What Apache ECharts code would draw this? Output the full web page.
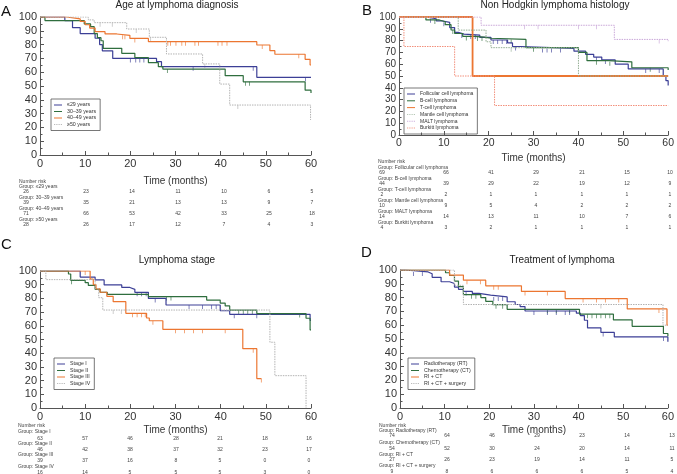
<!DOCTYPE html>
<html><head><meta charset="utf-8">
<script src="https://cdn.jsdelivr.net/npm/echarts/dist/echarts.min.js"></script>
<style>html,body{margin:0;padding:0;background:#fff}#c{width:677px;height:474px}</style>
</head><body><div id="c"></div>
<script>
// ---------- Panel A: Age at lymphoma diagnosis ----------
const ageNames = ['≤29 years', '30–39 years', '40–49 years', '≥50 years'];
const ageLe29 = [[0,100],[5.5,97.3],[7.2,92.3],[8.9,88],[12.2,84.6],[13.2,80],[13.8,75.5],[16.1,70],[25.8,67.6],[26.9,64],[48,56.3],[60,56.3]];
const ageLe29Cens = [20,21.2,22.1,23,33.9,47.2,58.8];
const age3039 = [[0,100],[1.1,97.4],[9.8,95],[11.2,93],[12,88],[12.7,85],[13.5,82.8],[14,77.3],[18.1,73.7],[21,70.5],[24,66.9],[26.2,64],[27.2,62.3],[41,57.5],[45,53],[58.7,47],[60,45]];
const age3039Cens = [28.2,45.5,46.4];
const age4049 = [[0,100],[5.9,98.6],[8.9,96.8],[10,94.4],[11,92],[12.2,89.4],[14.4,87.7],[17,86.7],[19.9,84.5],[24,82.1],[48,79.7],[50.9,75.6],[52,73],[58.7,69.3],[59.8,65.2],[60,65.2]];
const age4049Cens = [18.3,18.8,21,28.3,28.9,30.1,31.4,32.2,34.3,35.1,39.4,40.3,41.4,49.2,57.3];
const ageGe50 = [[0,100],[10.7,97.9],[12,95.9],[19.2,91.3],[24.2,85.3],[28,73.2],[36,66],[39.8,51.4],[42,36.2],[59.9,25.4],[60,25.4]];
const ageGe50Cens = [13.3,16,21.3,24.5,36.5,43.8];
const ageRisk = [[26,23,14,11,10,6,5],[39,35,21,13,13,9,7],[71,66,53,42,33,25,18],[28,26,17,12,7,4,3]];

// ---------- Panel B: Non Hodgkin lymphoma histology ----------
const histNames = ['Follicular cell lymphoma','B-cell lymphoma','T-cell lymphoma','Mantle cell lymphoma','MALT lymphoma','Burkitt lymphoma'];
const histFoll = [[0,100],[6,98.5],[8.3,96.8],[9.5,95.5],[11.3,91],[12.4,87],[13.2,85.5],[14.5,84.7],[18,82.8],[20.5,80.5],[24.2,78],[25.3,75],[27.2,73.4],[39,71],[41.6,68.4],[43.4,66],[45.2,63.6],[48.2,60],[51.1,56],[58.9,50],[59.5,46],[60,42]];
const histFollCens = [7,10,14,16,17,21,22,23,24,26,32,33,34,36,44,46,55,58];
const histBcell = [[0,100],[6,97.5],[9,96],[10.3,93.5],[11.6,89],[12.4,86],[14.2,83.5],[16.8,83],[19,82],[20.5,81],[28.3,74],[40,70],[41.9,63],[46.7,62],[51.9,57],[60,55]];
const histBcellCens = [8,12,15,17.5,18.5,25,30,44,47,56];
const histTcell = [[0,100],[16.4,50],[60,50]];
const histTcellCens = [];
const histMantle = [[0,100],[13.2,88.9],[19.4,79],[20.5,74],[40,50],[60,50]];
const histMantleCens = [25];
const histMalt = [[0,100],[18.3,93],[48,81],[60,79.5]];
const histMaltCens = [28,31,40,44,58];
const histBurkitt = [[0,100],[1.1,75],[12.4,50],[21.3,25],[60,25]];
const histBurkittCens = [];
const histRisk = [[69,66,41,29,21,15,10],[44,39,29,22,19,12,9],[2,2,1,1,1,1,1],[10,9,5,4,2,2,2],[14,14,13,11,10,7,6],[4,3,2,1,1,1,1]];

// ---------- Panel C: Lymphoma stage ----------
const stageNames = ['Stage I','Stage II','Stage III','Stage IV'];
const stage1 = [[0,100],[8.9,95.6],[12.2,93.5],[14.2,89.8],[18.1,88],[19.9,86.6],[21,84.4],[24,80],[27.9,75.2],[39.9,71],[42,68.4],[59.8,64],[60,64]];
const stage1Cens = [21.5,22.5,23.5,25.5,33,36,38,39,43,48];
const stage2 = [[0,100],[6.3,97.8],[6.8,93.2],[10,91.5],[10.7,89.5],[12.2,86.6],[13.3,84.5],[14.9,83],[24,81.3],[36.9,78.8],[39.9,76.6],[41,74.5],[42,71.5],[48,68.9],[58.9,65.5],[59.8,57],[60,57]];
const stage2Cens = [7,28,29,44,45,46,47,57.5];
const stage3 = [[0,100],[11.1,94],[11.8,90],[12.4,87],[13.3,84.5],[14.8,81.5],[16.2,77.6],[19,69.1],[23.6,65.7],[24.2,63.7],[27.2,57.4],[44.9,43.3],[48,21.5],[49,21.5]];
const stage3Cens = [10,20.5,21.5,22.5,23.3,25,30,32,34,36,41,47.2,49];
const stage4 = [[0,100],[1.3,93.7],[12.2,87],[13,80.5],[13.9,71.5],[50.9,48],[52,23.6],[58.9,0]];
const stage4Cens = [16.2,18];
const stageRisk = [[63,57,46,28,21,18,16],[46,42,38,37,32,23,17],[39,37,16,8,5,0,0],[16,14,5,5,5,3,0]];

// ---------- Panel D: Treatment of lymphoma ----------
const treatNames = ['Radiotherapy (RT)','Chemotherapy (CT)','RI + CT','RI + CT + surgery'];
const treatRT = [[0,100],[1.1,98.6],[6.3,97.3],[7.2,94.7],[9.2,91.5],[11.1,90.2],[12.2,87.6],[13.1,86],[14.2,84.5],[16.2,83],[17.7,81.8],[20.3,80.5],[24,77],[25.8,75],[26.9,73.5],[28,70.3],[39.5,68.7],[40.4,67],[41.3,63.6],[42,58],[45,54.8],[48,51.5],[60,48]];
const treatRTCens = [3,5,14.8,21,22,23,30,33,35,37,38,45.5,59];
const treatCT = [[0,100],[10.2,98],[11.1,96],[12.2,92],[13.1,88],[14.2,82.1],[18.1,80],[19.2,77.3],[20.8,74.9],[24,71.5],[40.2,68],[47.8,63.8],[52,59.2],[59,54],[60,52]];
const treatCTCens = [16,17,21.5,23,33,35,38,42,43,44,45,46,47];
const treatRTCT = [[0,100],[11.1,96.3],[14.2,92.6],[19.2,88.5],[27.2,84.5],[37,79.3],[50.9,71.8],[59.8,60],[60,60]];
const treatRTCTCens = [15,18,21,22,28,33,41,44,46,49,58];
const treatSurg = [[0,100],[12.2,88.9],[14.2,75],[58.9,60],[60,60]];
const treatSurgCens = [45];
const treatRisk = [[74,64,46,29,23,14,13],[54,52,30,24,20,14,11],[27,26,23,19,14,11,5],[9,8,6,6,6,5,4]];

const titles = ['Age at lymphoma diagnosis','Non Hodgkin lymphoma histology','Lymphoma stage','Treatment of lymphoma'];
const letters = ['A','B','C','D'];

// ---------- styling / building ----------
const FONT = '"Liberation Sans", Arial, Helvetica, sans-serif';
const BLUE = '#3c3f96', GREEN = '#2f6e3e', ORANGE = '#ec7631', GRAY = '#b3b3b3';
const DOT = [1.5, 1];
const SOLID_ICON = 'path://M0,0H8V1H0Z';
const DOT_ICON = 'path://M0,0H1V1H0Z M2,0H3V1H2Z M4,0H5V1H4Z M6,0H7V1H6Z M8,0H9V1H8Z';

function survAt(curve, t) {
  let s = curve[0][1];
  for (const p of curve) { if (p[0] <= t) s = p[1]; }
  return s;
}

const panels = [
  { grid:{left:40, top:17, width:271, height:138}, nameGap:21, labelSize:11, ylabelSize:11,
    legend:{left:51, top:99, itemGap:0.5, fs:5.3},
    curves:[
      {d:ageLe29, c:ageLe29Cens, color:BLUE, w:1.2},
      {d:age3039, c:age3039Cens, color:GREEN, w:1.2},
      {d:age4049, c:age4049Cens, color:ORANGE, w:1.2},
      {d:ageGe50, c:ageGe50Cens, color:GRAY, w:1, dash:DOT}],
    names: ageNames, risk: ageRisk,
    riskHead:{x:19, y:182}, labY:[187,198,209,220], valY:[192,203,214,225], cols:[26,86,132,178,224,269,312],
    title:{x:177, y:5}, letter:{x:1, y:12} },
  { grid:{left:399, top:17, width:271, height:118}, nameGap:18, labelSize:10.5, ylabelSize:10,
    legend:{left:404, top:88, itemGap:0.8, fs:5},
    curves:[
      {d:histFoll, c:histFollCens, color:BLUE, w:1.2},
      {d:histBcell, c:histBcellCens, color:GREEN, w:1.2},
      {d:histTcell, c:histTcellCens, color:ORANGE, w:1.8},
      {d:histMantle, c:histMantleCens, color:'#93ad93', w:1, dash:DOT},
      {d:histMalt, c:histMaltCens, color:'#c9a6d8', w:1, dash:DOT},
      {d:histBurkitt, c:histBurkittCens, color:'#f2907c', w:1, dash:DOT}],
    names: histNames, risk: histRisk,
    riskHead:{x:378, y:162}, labY:[168,179,190,201,212,223], valY:[173,184,195,206,217,228], cols:[382,446,491,536,582,627,670],
    title:{x:555, y:5}, letter:{x:362, y:11} },
  { grid:{left:40, top:271, width:271, height:137}, nameGap:17, labelSize:11, ylabelSize:11,
    legend:{left:54, top:358, itemGap:0.5, fs:5.3},
    curves:[
      {d:stage1, c:stage1Cens, color:BLUE, w:1.2},
      {d:stage2, c:stage2Cens, color:GREEN, w:1.2},
      {d:stage3, c:stage3Cens, color:ORANGE, w:1.2},
      {d:stage4, c:stage4Cens, color:GRAY, w:1, dash:DOT}],
    names: stageNames, risk: stageRisk,
    riskHead:{x:18, y:426}, labY:[432,444,455,467], valY:[439,450,461,473], cols:[40,85,130,176,220,265,309],
    title:{x:177, y:260}, letter:{x:1, y:245} },
  { grid:{left:400, top:270, width:271, height:138}, nameGap:17, labelSize:11, ylabelSize:11,
    legend:{left:408, top:358, itemGap:0.5, fs:5.3},
    curves:[
      {d:treatRT, c:treatRTCens, color:BLUE, w:1.2},
      {d:treatCT, c:treatCTCens, color:GREEN, w:1.2},
      {d:treatRTCT, c:treatRTCTCens, color:ORANGE, w:1.2},
      {d:treatSurg, c:treatSurgCens, color:GRAY, w:1, dash:DOT}],
    names: treatNames, risk: treatRisk,
    riskHead:{x:379, y:426}, labY:[431,443,455,466], valY:[436,449,460,472], cols:[392,447,492,537,582,627,672],
    title:{x:562, y:260}, letter:{x:361, y:253} }
];

const grids = [], xAxes = [], yAxes = [], series = [], legends = [], graphics = [];
function txt(x, y, text, size, align, color) {
  return { type:'text', x:x, y:y, silent:true,
    style:{ text:text, fontSize:size, fontFamily:FONT, fill:color, align:align, verticalAlign:'middle' } };
}

panels.forEach((p, i) => {
  grids.push(p.grid);
  const axisCommon = (size) => ({
    gridIndex:i, type:'value',
    axisLine:{show:true, onZero:false, lineStyle:{color:'#555', width:1}},
    axisTick:{show:true, inside:true, length:4, lineStyle:{color:'#555'}},
    minorTick:{show:true, splitNumber:2, length:2.5, lineStyle:{color:'#555'}},
    splitLine:{show:false},
    axisLabel:{fontSize:size, color:'#333', fontFamily:FONT, margin:3}
  });
  xAxes.push(Object.assign(axisCommon(p.labelSize), {
    min:0, max:60, interval:10,
    name:'Time (months)', nameLocation:'middle', nameGap:p.nameGap,
    nameTextStyle:{fontSize:10, color:'#333', fontFamily:FONT}
  }));
  yAxes.push(Object.assign(axisCommon(p.ylabelSize), { min:0, max:100, interval:10 }));

  p.curves.forEach((cv, k) => {
    series.push({
      type:'line', name:p.names[k], xAxisIndex:i, yAxisIndex:i, data:cv.d, step:'end',
      symbol:'none', animation:false, silent:true,
      lineStyle:{color:cv.color, width:cv.w, type:cv.dash || 'solid'},
      itemStyle:{color:cv.color}
    });
    if (cv.c.length) series.push({
      type:'scatter', xAxisIndex:i, yAxisIndex:i, animation:false, silent:true,
      data:cv.c.map(t => [t, survAt(cv.d, t)]),
      symbol:'rect', symbolSize:[0.8, 4], symbolOffset:[0, 2],
      itemStyle:{color:cv.color}
    });
  });

  legends.push({
    orient:'vertical', left:p.legend.left, top:p.legend.top,
    data:p.names.map((nm, k) => ({ name:nm, icon: p.curves[k].dash ? DOT_ICON : SOLID_ICON })),
    itemWidth:8, itemHeight:1.3, itemGap:p.legend.itemGap, padding:[3,4,3,3],
    borderColor:'#555', borderWidth:0.8, selectedMode:false,
    textStyle:{fontSize:p.legend.fs, lineHeight:6, color:'#333', fontFamily:FONT}
  });

  graphics.push(txt(p.title.x, p.title.y, titles[i], 10, 'center', '#222'));
  graphics.push(txt(p.letter.x, p.letter.y, letters[i], 15, 'left', '#111'));
  graphics.push(txt(p.riskHead.x, p.riskHead.y, 'Number risk', 5, 'left', '#444'));
  p.names.forEach((nm, k) => {
    graphics.push(txt(p.riskHead.x, p.labY[k], 'Group: ' + nm, 5, 'left', '#444'));
    p.risk[k].forEach((v, j) => {
      graphics.push(txt(p.cols[j], p.valY[k], String(v), 5, 'center', '#444'));
    });
  });
});

const chart = echarts.init(document.getElementById('c'));
chart.setOption({
  animation:false,
  backgroundColor:'#fff',
  grid:grids, xAxis:xAxes, yAxis:yAxes, series:series, legend:legends,
  graphic:{elements:graphics}
});
</script></body></html>
